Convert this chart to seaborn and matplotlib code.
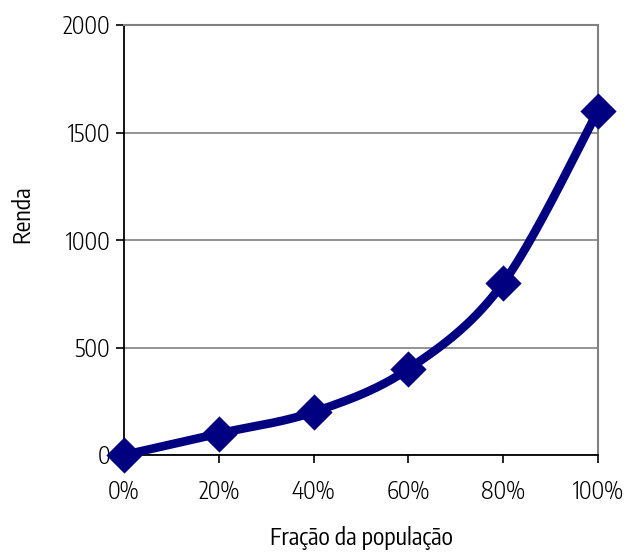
import numpy as np
import pandas as pd
import matplotlib
matplotlib.use("Agg")
import matplotlib.pyplot as plt
from matplotlib import font_manager
import seaborn as sns

# Income by cumulative population fraction
fracao = [0, 20, 40, 60, 80, 100]
renda = [0, 100, 200, 400, 800, 1600]
x_ticklabels = ["0%", "20%", "40%", "60%", "80%", "100%"]
y_ticks = [0, 500, 1000, 1500, 2000]

sns.set_theme(style="white")


def light_weight(w):
    try:
        return int(w) <= 400
    except ValueError:
        return w in ("light", "normal", "regular", "book")


faces = [f for f in font_manager.fontManager.ttflist if f.style == "normal"]
preferred = ["Open Sans Condensed Light", "Open Sans Condensed", "Encode Sans Condensed",
             "Asap Condensed", "Barlow Semi Condensed", "Archivo Narrow"]
family, weight = "DejaVu Sans", "normal"
for name in preferred:
    hits = sorted((f.weight for f in faces if f.name == name and light_weight(f.weight)),
                  key=lambda w: abs((int(w) if str(w).isdigit() else 400) - 300))
    if hits:
        family, weight = name, hits[0]
        break
plt.rcParams["font.family"] = [family, "DejaVu Sans"]
plt.rcParams["font.weight"] = weight

NAVY = "#000080"
FS = 17

df = pd.DataFrame({"fracao": fracao, "renda": renda})


def smooth_curve(xs, ys, n=40, tension=1 / 6):
    """Bezier smoothing through the points (spreadsheet-style smoothed line)."""
    xs = np.asarray(xs, float)
    ys = np.asarray(ys, float)
    px, py = [], []
    for i in range(len(xs) - 1):
        x0, y0 = (xs[i - 1], ys[i - 1]) if i > 0 else (xs[i], ys[i])
        x1, y1 = xs[i], ys[i]
        x2, y2 = xs[i + 1], ys[i + 1]
        x3, y3 = (xs[i + 2], ys[i + 2]) if i + 2 < len(xs) else (xs[i + 1], ys[i + 1])
        c1x, c1y = x1 + (x2 - x0) * tension, y1 + (y2 - y0) * tension
        c2x, c2y = x2 - (x3 - x1) * tension, y2 - (y3 - y1) * tension
        t = np.linspace(0, 1, n)
        bx = (1 - t) ** 3 * x1 + 3 * (1 - t) ** 2 * t * c1x + 3 * (1 - t) * t ** 2 * c2x + t ** 3 * x2
        by = (1 - t) ** 3 * y1 + 3 * (1 - t) ** 2 * t * c1y + 3 * (1 - t) * t ** 2 * c2y + t ** 3 * y2
        px.extend(bx)
        py.extend(by)
    return np.array(px), np.array(py)


fig = plt.figure(figsize=(6.26, 5.56), dpi=100)
ax = fig.add_axes([124 / 626, 101 / 556, 474 / 626, 430 / 556])

cx, cy = smooth_curve(df["fracao"], df["renda"])
curve = pd.DataFrame({"fracao": cx, "renda": cy})
sns.lineplot(data=curve, x="fracao", y="renda", ax=ax, color=NAVY, lw=6.2,
             sort=False, estimator=None, zorder=3, solid_capstyle="round")
sns.scatterplot(data=df, x="fracao", y="renda", ax=ax, marker="D", s=340,
                color=NAVY, edgecolor=NAVY, linewidth=0, zorder=4, clip_on=False)

ax.set_xlim(0, 100)
ax.set_ylim(0, 2000)
ax.set_xticks(fracao)
ax.set_xticklabels(x_ticklabels)
ax.set_yticks(y_ticks)
ax.yaxis.grid(True, color="#808080", lw=1.2)
ax.xaxis.grid(False)
ax.set_axisbelow(True)

for side in ["top", "right"]:
    ax.spines[side].set_color("#808080")
    ax.spines[side].set_linewidth(1.5)
for side in ["left", "bottom"]:
    ax.spines[side].set_color("black")
    ax.spines[side].set_linewidth(1.3)

ax.tick_params(axis="both", which="major", direction="out", length=6, width=1.2,
               color="black", labelsize=FS, labelcolor="black",
               left=True, bottom=True)
ax.tick_params(axis="y", pad=4)
ax.tick_params(axis="x", pad=12)

ax.set_xlabel("Fração da população", fontsize=FS, labelpad=16, color="black")
ax.set_ylabel("Renda", fontsize=FS, color="black")
ax.yaxis.set_label_coords(-0.19, 0.56)

fig.savefig("out.png", dpi=100)
